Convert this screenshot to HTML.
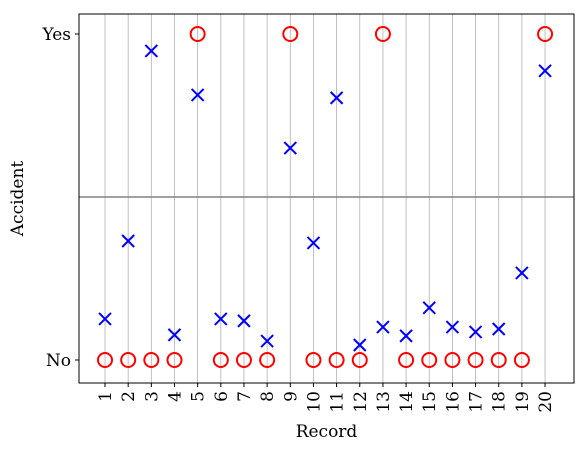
<!DOCTYPE html>
<html><head><meta charset="utf-8"><style>
body{margin:0;background:#fff;}
svg{font-family:"DejaVu Serif","Liberation Serif",serif;}
</style></head><body>
<svg id="chart" width="587" height="451">
<g id="grid"></g><g id="marks"></g><g id="axes"></g>
</svg>
<script>
const records = [1,2,3,4,5,6,7,8,9,10,11,12,13,14,15,16,17,18,19,20];
const predicted = [0.126,0.365,0.948,0.077,0.813,0.126,0.120,0.058,0.650,0.359,0.804,0.046,0.101,0.074,0.160,0.101,0.086,0.095,0.267,0.887];
const actual = [0,0,0,0,1,0,0,0,1,0,0,0,1,0,0,0,0,0,0,1];
const yTickLabels = ["No","Yes"];
const yTickValues = [0,1];

const L=79,R=574,T=14,B=383;
const xMin=-0.123,xMax=21.25,yMin=-0.0706,yMax=1.0613;
const sx=v=>L+(v-xMin)/(xMax-xMin)*(R-L);
const sy=v=>B-(v-yMin)/(yMax-yMin)*(B-T);
const NS="http://www.w3.org/2000/svg";
function mk(parent,tag,attrs){const e=document.createElementNS(NS,tag);for(const k in attrs)e.setAttribute(k,attrs[k]);document.getElementById(parent).appendChild(e);return e;}

records.forEach((r,i)=>{
  const g=mk('grid','line',{x1:sx(r),x2:sx(r),y1:T,y2:B,stroke:'#b0b0b0','stroke-width':0.8});
  
  
});
const th=mk('grid','line',{x1:L,x2:R,y1:sy(0.5),y2:sy(0.5),stroke:'#808080','stroke-width':1.5});



records.forEach((r,i)=>{
  const c=mk('marks','circle',{cx:sx(r),cy:sy(actual[i]),r:7,fill:'none',stroke:'red','stroke-width':2});
  
  
  const x=sx(r),y=sy(predicted[i]),d=6;
  const p=mk('marks','path',{d:`M${x-d},${y-d}L${x+d},${y+d}M${x-d},${y+d}L${x+d},${y-d}`,stroke:'blue','stroke-width':2,fill:'none'});
  
  
});

const fr=mk('axes','rect',{x:L,y:T,width:R-L,height:B-T,fill:'none',stroke:'#000','stroke-width':1});


records.forEach(r=>{
  mk('axes','line',{x1:sx(r),x2:sx(r),y1:B,y2:B+4,stroke:'#000'});
  const t=mk('axes','text',{x:0,y:0,transform:`translate(${sx(r)+6},${B+8}) rotate(-90)`,'text-anchor':'end','font-size':17});
  t.textContent=r;
  
  
});
yTickValues.forEach((v,i)=>{
  mk('axes','line',{x1:L-4,x2:L,y1:sy(v),y2:sy(v),stroke:'#000'});
  const t=mk('axes','text',{x:L-8,y:sy(v)+6,'text-anchor':'end','font-size':17});
  t.textContent=yTickLabels[i];
  
  
});
const xt=mk('axes','text',{x:(L+R)/2,y:437,'text-anchor':'middle','font-size':17});
xt.textContent='Record';


const yt=mk('axes','text',{x:0,y:0,transform:`translate(23,${(T+B)/2}) rotate(-90)`,'text-anchor':'middle','font-size':17});
yt.textContent='Accident';


</script>
</body></html>
